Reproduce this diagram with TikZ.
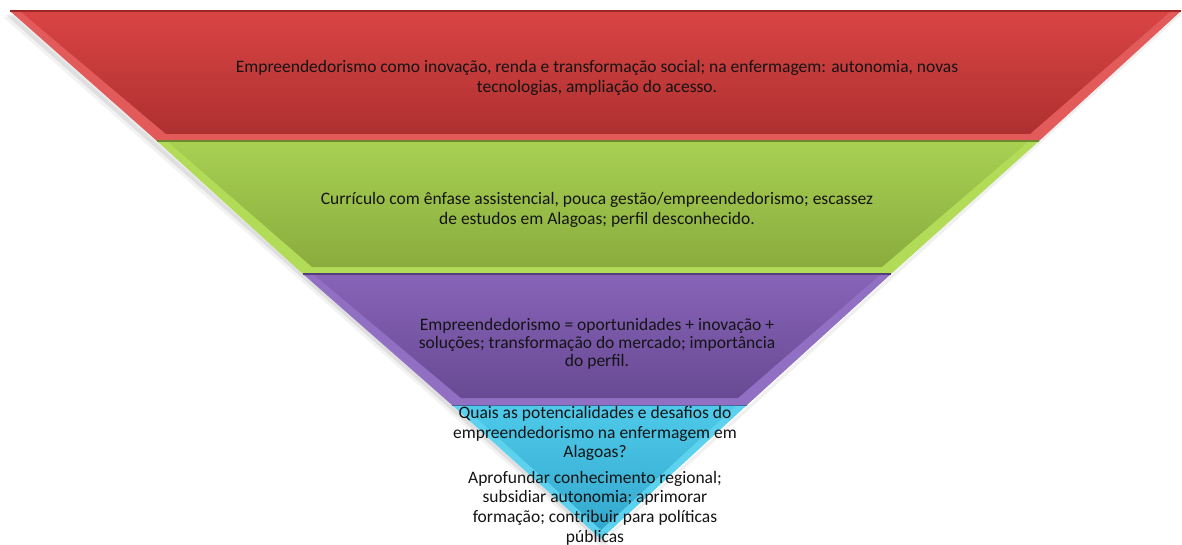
\documentclass[tikz,border=0pt]{standalone}
\usepackage{fontspec}
\setmainfont{Carlito}
\usetikzlibrary{calc}
\definecolor{redA}{HTML}{DA4444}
\definecolor{redB}{HTML}{AE3030}
\definecolor{redL}{HTML}{E25A5A}
\definecolor{redD}{HTML}{9A2626}
\definecolor{grnA}{HTML}{A8D052}
\definecolor{grnB}{HTML}{8AAC3E}
\definecolor{grnL}{HTML}{B2DC58}
\definecolor{grnD}{HTML}{6E8A30}
\definecolor{purA}{HTML}{8863B8}
\definecolor{purB}{HTML}{684A94}
\definecolor{purL}{HTML}{9170C4}
\definecolor{purD}{HTML}{553C7A}
\definecolor{cyaA}{HTML}{4FCAEA}
\definecolor{cyaB}{HTML}{33A8CE}
\definecolor{cyaL}{HTML}{5CD2EE}
\definecolor{txt}{HTML}{141414}
\tikzset{
  bandtext/.style={text=txt, align=center, font=\fontsize{17.5}{19.6}\selectfont, inner sep=0pt},
  tighttext/.style={text=txt, align=center, font=\fontsize{17.5}{18.2}\selectfont, inner sep=0pt},
}
% band: #1 y0, #2 y1, #3 x-left top, #4 x-right top, #5 x-left bottom, #6 x-right bottom, #7 light, #8 topcol, #9 botcol
\newcommand{\funnelband}[9]{%
  \fill[#7] (#3,#1) -- (#4,#1) -- (#6,#2) -- (#5,#2) -- cycle;
  \shade[top color=#8, bottom color=#9]
    (#3+10,#1) -- (#4-10,#1) -- (#6-9,#2-7) -- (#5+9,#2-7) -- cycle;
}
\begin{document}
\begin{tikzpicture}[x=1pt,y=-1pt]
\useasboundingbox (0,0) rectangle (1182,545);
% soft shadow
\fill[black, opacity=0.08] (6,15) -- (601,543) -- (607,543) -- (18,15) -- cycle;
\fill[black, opacity=0.05] (3,17) -- (599,545) -- (609,545) -- (14,17) -- cycle;
\fill[black, opacity=0.06] (1182,14) -- (604,542) -- (602,540) -- (1176,14) -- cycle;
% bands
\funnelband{11}{141}{10}{1181}{157}{1039}{redL}{redA}{redB}
\funnelband{141}{274}{157}{1039}{303}{891}{grnL}{grnA}{grnB}
\funnelband{274}{405}{303}{891}{452}{747}{purL}{purA}{purB}
% cyan triangle
\fill[cyaL] (452,405) -- (747,405) -- (601,539) -- cycle;
\shade[top color=cyaA, bottom color=cyaB] (462,405) -- (737,405) -- (601,530) -- cycle;
% band top edges
\draw[redD, line width=1.2pt] (10,11) -- (1181,11);
\draw[grnD, line width=1.2pt] (157,141) -- (1039,141);
\draw[purD, line width=1.2pt] (303,274) -- (891,274);
\draw[purD!60!cyaB, line width=1pt] (452,405) -- (747,405);
% texts
\node[bandtext] (t1) at (597,78) {Empreendedorismo como inovação, renda e transformação social; na enfermagem: autonomia, novas\\tecnologias, ampliação do acesso.};
\node[bandtext] (t2) at (597,210) {Currículo com ênfase assistencial, pouca gestão/empreendedorismo; escassez\\de estudos em Alagoas; perfil desconhecido.};
\node[tighttext] (t3) at (597,344) {Empreendedorismo = oportunidades + inovação +\\soluções; transformação do mercado; importância\\do perfil.};
\node[bandtext] (t4) at (595,433.5) {Quais as potencialidades e desafios do\\empreendedorismo na enfermagem em\\Alagoas?};
\node[bandtext] (t5) at (595,508) {Aprofundar conhecimento regional;\\subsidiar autonomia; aprimorar\\formação; contribuir para políticas\\públicas};
\end{tikzpicture}
\end{document}
